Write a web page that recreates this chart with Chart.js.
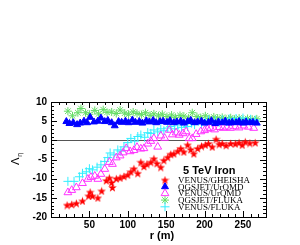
<!DOCTYPE html>
<html>
<head>
<meta charset="utf-8">
<script src="https://cdn.jsdelivr.net/npm/chart.js@4.4.1/dist/chart.umd.min.js"></script>
<style>
  html, body { margin: 0; padding: 0; background: #fff; }
  #wrap { width: 300px; height: 245px; }
</style>
</head>
<body>
<div id="wrap"><canvas id="lambdaChart" width="300" height="245"></canvas></div>
<script>
// axis ticks
const xTicks = [50, 100, 150, 200, 250];
const yTicks = [10, 5, 0, -5, -10, -15, -20];

const seriesNames = ['VENUS/GHEISHA', 'QGSJET/UrQMD', 'VENUS/UrQMD', 'QGSJET/FLUKA', 'VENUS/FLUKA'];
const plotTitle = '5 TeV Iron';

// VENUS/GHEISHA (red stars)
const gheishaR = [21,27,33,41,49,51,54,61,66,72,76,79,80,85,90,95,100,104,108,113,117,121,125,130,134,138,143,147,152,156,160,165,169,173,178,182,186,191,196,201,205,210,215,219,223,228,234,240,245,249,253,259,266];
const gheishaV = [-16.9,-16.7,-16.4,-15.8,-14.5,-13.5,-14.5,-15.0,-13.2,-10.5,-9.8,-11.0,-12.3,-10.0,-9.8,-9.4,-9.0,-8.2,-7.4,-8.6,-5.7,-6.8,-6.2,-5.7,-4.8,-6.0,-7.0,-5.2,-4.4,-3.6,-3.5,-2.8,-2.1,-3.0,-1.2,-2.4,-3.5,-2.1,-1.5,-1.2,-0.8,-1.7,0.3,-1.0,-0.8,-1.3,-0.8,-0.9,-0.6,-1.2,-0.4,-0.7,-0.6];

// QGSJET/UrQMD (blue filled triangles)
const qgsUrqmdR = [20,24,29,34,38,43,47,51,56,61,65,70,74,79,83,88,92,97,101,106,110,115,119,124,128,133,137,142,146,151,155,160,164,169,173,178,182,187,191,196,200,205,209,214,218,223,227,232,236,241,245,250,254,259,263,268];
const qgsUrqmdV = [4.9,4.4,4.6,4.1,4.5,5.0,4.6,6.0,4.8,5.0,5.8,4.9,5.2,4.6,3.8,4.9,4.7,5.0,4.6,5.3,4.7,4.9,4.5,5.1,4.8,5.2,4.6,4.9,5.0,4.7,5.1,4.6,4.8,5.0,4.5,4.9,5.2,4.6,4.8,5.0,4.5,4.7,5.1,4.4,4.8,4.6,5.0,4.5,4.7,4.6,4.9,4.5,4.8,4.6,4.7,4.5];

// VENUS/UrQMD (magenta open triangles)
const venusUrqmdR = [22,27,33,41,48,52,57,61,65,70,76,80,85,90,94,98,103,108,112,117,121,126,130,134,139,143,148,154,158,163,167,172,176,180,184,189,195,200,204,208,213,219,224,229,234,240,245,251,257,264];
const venusUrqmdV = [-13.6,-13.0,-12.3,-11.2,-10.1,-9.6,-9.3,-10.1,-8.8,-7.5,-5.7,-6.2,-4.5,-4.0,-3.2,-2.1,-2.9,-2.6,-1.8,-2.2,-2.1,-0.9,-0.2,0.5,-1.7,1.2,0.6,2.7,1.5,2.0,1.4,1.8,2.3,0.5,0.5,1.6,2.3,2.6,3.0,3.2,2.8,3.4,3.2,3.5,3.2,3.6,3.3,3.8,3.5,3.2];

// QGSJET/FLUKA (green asterisks)
const qgsFlukaR = [22,28,35,39,45,50,57,62,68,73,79,85,90,96,101,107,112,118,123,129,134,140,145,151,157,162,168,173,179,184,190,195,201,206,212,217,223,228,234,239,245,250,256,262,268];
const qgsFlukaV = [7.6,6.4,7.2,8.3,7.2,6.8,7.8,6.9,8.0,7.3,7.4,7.0,7.9,7.1,6.8,7.4,7.0,6.7,7.2,6.5,6.9,6.4,6.8,6.2,6.6,6.0,6.5,6.3,5.8,7.2,6.2,5.9,6.4,5.7,6.1,5.8,6.0,5.6,5.9,5.5,5.8,5.4,5.7,5.5,5.6];

// VENUS/FLUKA (cyan crosses)
const venusFlukaR = [22,30,37,41,46,50,54,60,65,70,74,77,82,87,91,95,100,104,109,113,117,122,126,130,134,139,143,147,152,156,161,165,170,174,178,183,187,192,196,201,205,210,214,219,223,228,232,237,241,246,250,255,260,266];
const venusFlukaV = [-10.7,-10.7,-9.5,-8.6,-8.2,-7.4,-7.7,-7.0,-6.4,-5.5,-4.5,-3.3,-3.8,-2.5,-2.8,-1.7,-0.6,0.5,-0.2,1.0,1.4,0.8,2.0,1.8,2.7,2.2,3.0,2.5,3.2,3.6,3.0,4.0,3.4,4.3,3.6,4.5,4.1,5.0,4.4,4.8,5.3,4.6,5.1,4.7,5.4,4.9,5.6,5.1,5.7,5.2,5.8,5.0,5.5,5.3];

function toPoints(rs, vs) {
    return rs.map((r, i) => ({ x: r, y: vs[i] }));
}

// filled five point star for the red series
function makeStar(size, color) {
    const c = document.createElement('canvas');
    c.width = size;
    c.height = size;
    const g = c.getContext('2d');
    g.fillStyle = color;
    g.beginPath();
    for (let i = 0; i < 10; i++) {
        const rad = i % 2 === 0 ? size / 2 : size / 5;
        const a = -Math.PI / 2 + i * Math.PI / 5;
        g.lineTo(size / 2 + rad * Math.cos(a), size / 2 + 0.5 + rad * Math.sin(a));
    }
    g.closePath();
    g.fill();
    return c;
}
const redStar = makeStar(9, '#ff0000');

const markers = [
    { pointStyle: redStar, radius: 4.5, bg: '#ff0000', border: '#ff0000' },
    { pointStyle: 'triangle', radius: 4, bg: '#0000ff', border: '#0000ff' },
    { pointStyle: 'triangle', radius: 4.5, bg: 'rgba(0,0,0,0)', border: '#ff33ff' },
    { pointStyle: 'star', radius: 4, bg: 'rgba(0,0,0,0)', border: '#66dd66' },
    { pointStyle: 'cross', radius: 4.5, bg: 'rgba(0,0,0,0)', border: '#33eeff' }
];

const allPoints = [
    toPoints(gheishaR, gheishaV),
    toPoints(qgsUrqmdR, qgsUrqmdV),
    toPoints(venusUrqmdR, venusUrqmdV),
    toPoints(qgsFlukaR, qgsFlukaV),
    toPoints(venusFlukaR, venusFlukaV)
];
const drawOrder = [0, 1, 2, 4, 3];

const datasets = seriesNames.map((name, i) => ({
    label: name,
    data: allPoints[i],
    pointStyle: markers[i].pointStyle,
    pointRadius: markers[i].radius,
    pointBackgroundColor: markers[i].bg,
    pointBorderColor: markers[i].border,
    pointBorderWidth: 1,
    showLine: false,
    order: drawOrder[i]
}));

// frame, inside ticks, zero line, legend and axis titles (ROOT look)
const rootFrame = {
    id: 'rootFrame',
    beforeDatasetsDraw(chart) {
        const { ctx, chartArea: a, scales } = chart;
        const y0 = Math.round(scales.y.getPixelForValue(0)) + 0.5;
        ctx.save();
        ctx.strokeStyle = '#555';
        ctx.lineWidth = 1;
        ctx.beginPath();
        ctx.moveTo(a.left, y0);
        ctx.lineTo(a.right, y0);
        ctx.stroke();
        ctx.restore();
    },
    afterDraw(chart) {
        const { ctx, chartArea: a, scales } = chart;
        ctx.save();
        ctx.strokeStyle = '#000';
        ctx.lineWidth = 1;
        ctx.strokeRect(a.left + 0.5, a.top + 0.5, a.right - a.left, a.bottom - a.top);

        ctx.beginPath();
        for (let v = 0; v <= 280; v += 10) {
            const px = Math.round(scales.x.getPixelForValue(v)) + 0.5;
            const len = v % 50 === 0 ? 6 : 3;
            ctx.moveTo(px, a.bottom); ctx.lineTo(px, a.bottom - len);
            ctx.moveTo(px, a.top); ctx.lineTo(px, a.top + len);
        }
        for (let v = -20; v <= 10; v += 1) {
            const py = Math.round(scales.y.getPixelForValue(v)) + 0.5;
            const len = v % 5 === 0 ? 6 : 3;
            ctx.moveTo(a.left, py); ctx.lineTo(a.left + len, py);
            ctx.moveTo(a.right, py); ctx.lineTo(a.right - len, py);
        }
        ctx.stroke();

        // x title
        ctx.fillStyle = '#000';
        ctx.font = 'bold 11px "Liberation Sans", Arial, sans-serif';
        ctx.textAlign = 'center';
        ctx.textBaseline = 'alphabetic';
        ctx.fillText('r (m)', 162, 239);

        // y title  Lambda_eta
        ctx.save();
        ctx.translate(19, 160);
        ctx.rotate(-Math.PI / 2);
        ctx.textAlign = 'left';
        ctx.font = '11px "DejaVu Sans", sans-serif';
        ctx.fillText('Λ', -5, 0);
        ctx.font = '7px "DejaVu Sans", sans-serif';
        ctx.fillText('η', 3, 3);
        ctx.restore();

        // legend
        ctx.font = 'bold 11px "Liberation Sans", Arial, sans-serif';
        ctx.textAlign = 'left';
        ctx.fillText(plotTitle, 183, 174);
        ctx.font = '9px "Liberation Serif", "Times New Roman", serif';
        ctx.textBaseline = 'middle';
        seriesNames.forEach((name, i) => {
            const ly = 180 + i * 6.7;
            const m = markers[i];
            ctx.fillStyle = m.bg;
            ctx.strokeStyle = m.border;
            ctx.lineWidth = 1;
            Chart.helpers.drawPoint(ctx, { pointStyle: m.pointStyle, radius: m.radius, rotation: 0, borderWidth: 1 }, 165, ly);
            ctx.fillStyle = '#000';
            ctx.fillText(name, 178, ly + 0.5);
        });
        ctx.restore();
    }
};

const ctx = document.getElementById('lambdaChart').getContext('2d');
const lambdaChart = new Chart(ctx, {
    type: 'scatter',
    data: { datasets: datasets },
    options: {
        responsive: false,
        animation: false,
        devicePixelRatio: 1,
        layout: { padding: { top: 102, right: 34, left: 0, bottom: 0 } },
        plugins: { legend: { display: false }, tooltip: { enabled: false } },
        scales: {
            x: {
                type: 'linear',
                min: 0,
                max: 280,
                afterBuildTicks: scale => { scale.ticks = xTicks.map(v => ({ value: v })); },
                afterFit: scale => { scale.height = 28; },
                grid: { display: false, drawTicks: false },
                border: { display: false },
                ticks: {
                    color: '#000',
                    padding: 2,
                    maxRotation: 0,
                    font: { family: '"Liberation Sans", Arial, sans-serif', size: 10, weight: 'bold' }
                }
            },
            y: {
                type: 'linear',
                min: -20,
                max: 10,
                afterBuildTicks: scale => { scale.ticks = yTicks.map(v => ({ value: v })); },
                afterFit: scale => { scale.width = 51; },
                grid: { display: false, drawTicks: false },
                border: { display: false },
                ticks: {
                    color: '#000',
                    padding: 4,
                    font: { family: '"Liberation Sans", Arial, sans-serif', size: 10, weight: 'bold' }
                }
            }
        }
    },
    plugins: [rootFrame]
});
</script>
</body>
</html>
